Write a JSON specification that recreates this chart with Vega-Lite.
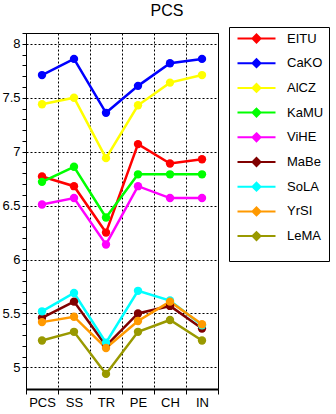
{
  "$schema": "https://vega.github.io/schema/vega-lite/v6.json",
  "autosize": {"type": "none"},
  "width": 192,
  "height": 356,
  "padding": {"left": 26, "top": 33, "right": 118, "bottom": 25},
  "title": {"text": "PCS", "fontSize": 16, "font": "Liberation Sans", "fontWeight": "normal", "anchor": "middle", "dx": 45, "offset": 8, "color": "black"},
  "data": {"values": [
    {"series": "EITU", "cat": "PCS", "value": 6.77}, {"series": "EITU", "cat": "SS", "value": 6.68}, {"series": "EITU", "cat": "TR", "value": 6.25}, {"series": "EITU", "cat": "PE", "value": 7.07}, {"series": "EITU", "cat": "CH", "value": 6.89}, {"series": "EITU", "cat": "IN", "value": 6.93},
    {"series": "CaKO", "cat": "PCS", "value": 7.71}, {"series": "CaKO", "cat": "SS", "value": 7.86}, {"series": "CaKO", "cat": "TR", "value": 7.36}, {"series": "CaKO", "cat": "PE", "value": 7.61}, {"series": "CaKO", "cat": "CH", "value": 7.82}, {"series": "CaKO", "cat": "IN", "value": 7.86},
    {"series": "AlCZ", "cat": "PCS", "value": 7.44}, {"series": "AlCZ", "cat": "SS", "value": 7.5}, {"series": "AlCZ", "cat": "TR", "value": 6.94}, {"series": "AlCZ", "cat": "PE", "value": 7.43}, {"series": "AlCZ", "cat": "CH", "value": 7.64}, {"series": "AlCZ", "cat": "IN", "value": 7.71},
    {"series": "KaMU", "cat": "PCS", "value": 6.72}, {"series": "KaMU", "cat": "SS", "value": 6.86}, {"series": "KaMU", "cat": "TR", "value": 6.39}, {"series": "KaMU", "cat": "PE", "value": 6.79}, {"series": "KaMU", "cat": "CH", "value": 6.79}, {"series": "KaMU", "cat": "IN", "value": 6.79},
    {"series": "ViHE", "cat": "PCS", "value": 6.51}, {"series": "ViHE", "cat": "SS", "value": 6.57}, {"series": "ViHE", "cat": "TR", "value": 6.14}, {"series": "ViHE", "cat": "PE", "value": 6.68}, {"series": "ViHE", "cat": "CH", "value": 6.57}, {"series": "ViHE", "cat": "IN", "value": 6.57},
    {"series": "MaBe", "cat": "PCS", "value": 5.46}, {"series": "MaBe", "cat": "SS", "value": 5.61}, {"series": "MaBe", "cat": "TR", "value": 5.2}, {"series": "MaBe", "cat": "PE", "value": 5.5}, {"series": "MaBe", "cat": "CH", "value": 5.57}, {"series": "MaBe", "cat": "IN", "value": 5.36},
    {"series": "SoLA", "cat": "PCS", "value": 5.52}, {"series": "SoLA", "cat": "SS", "value": 5.69}, {"series": "SoLA", "cat": "TR", "value": 5.23}, {"series": "SoLA", "cat": "PE", "value": 5.71}, {"series": "SoLA", "cat": "CH", "value": 5.62}, {"series": "SoLA", "cat": "IN", "value": 5.39},
    {"series": "YrSI", "cat": "PCS", "value": 5.42}, {"series": "YrSI", "cat": "SS", "value": 5.47}, {"series": "YrSI", "cat": "TR", "value": 5.18}, {"series": "YrSI", "cat": "PE", "value": 5.43}, {"series": "YrSI", "cat": "CH", "value": 5.61}, {"series": "YrSI", "cat": "IN", "value": 5.4},
    {"series": "LeMA", "cat": "PCS", "value": 5.25}, {"series": "LeMA", "cat": "SS", "value": 5.33}, {"series": "LeMA", "cat": "TR", "value": 4.94}, {"series": "LeMA", "cat": "PE", "value": 5.33}, {"series": "LeMA", "cat": "CH", "value": 5.44}, {"series": "LeMA", "cat": "IN", "value": 5.25}
  ]},
  "encoding": {
    "x": {"field": "cat", "type": "nominal", "sort": ["PCS", "SS", "TR", "PE", "CH", "IN"],
      "scale": {"type": "band", "paddingInner": 0, "paddingOuter": 0},
      "axis": {"title": null, "tickBand": "extent", "grid": true, "gridColor": "black", "gridDash": [2, 2], "tickSize": 5, "tickColor": "black", "domainWidth": 2, "domainColor": "black", "labelAngle": 0, "labelFontSize": 13, "labelFont": "Liberation Sans", "labelColor": "black", "labelPadding": 2}},
    "y": {"field": "value", "type": "quantitative",
      "scale": {"domain": [4.8, 8.1], "nice": false, "zero": false},
      "axis": {"title": null, "values": [5, 5.1, 5.2, 5.3, 5.4, 5.5, 5.6, 5.7, 5.8, 5.9, 6, 6.1, 6.2, 6.3, 6.4, 6.5, 6.6, 6.7, 6.8, 6.9, 7, 7.1, 7.2, 7.3, 7.4, 7.5, 7.6, 7.7, 7.8, 7.9, 8, 8.1],
        "format": "~g", "labelExpr": "round(datum.value*10)%5==0 ? datum.label : ''",
        "grid": true, "gridColor": "black", "gridDash": [2, 2],
        "gridOpacity": {"condition": {"test": "round(datum.value*10)%5==0", "value": 1}, "value": 0},
        "tickSize": 4, "tickColor": "black", "domainColor": "black", "labelFontSize": 13, "labelFont": "Liberation Sans", "labelColor": "black", "labelPadding": 2}},
    "color": {"field": "series", "type": "nominal",
      "scale": {"domain": ["EITU", "CaKO", "AlCZ", "KaMU", "ViHE", "MaBe", "SoLA", "YrSI", "LeMA"],
        "range": ["#FF0000", "#0000FF", "#FFFF00", "#00FF00", "#FF00FF", "#800000", "#00FFFF", "#FF9900", "#999900"]},
      "legend": {"title": "                          ", "titleOrient": "bottom", "titleFontSize": 10, "titlePadding": 2,
        "orient": "none", "legendX": 203, "legendY": -6, "strokeColor": "black", "padding": 5,
        "symbolType": "M-4.75,0L4.75,0M0,-1L1,0L0,1L-1,0Z", "symbolSize": 64, "symbolStrokeWidth": 2,
        "symbolOffset": 16, "labelOffset": 24, "labelFontSize": 13, "labelFont": "Liberation Sans", "labelColor": "black", "rowPadding": 7.7,
        "encode": {"symbols": {"update": {"fill": {"scale": "color", "field": "value"}, "stroke": {"scale": "color", "field": "value"}, "opacity": {"value": 1}}}}}}
  },
  "layer": [
    {"mark": {"type": "line", "strokeWidth": 2.5}},
    {"mark": {"type": "point", "shape": "circle", "filled": true, "size": 70, "opacity": 1}}
  ],
  "config": {"view": {"stroke": "black", "strokeWidth": 1}}
}
